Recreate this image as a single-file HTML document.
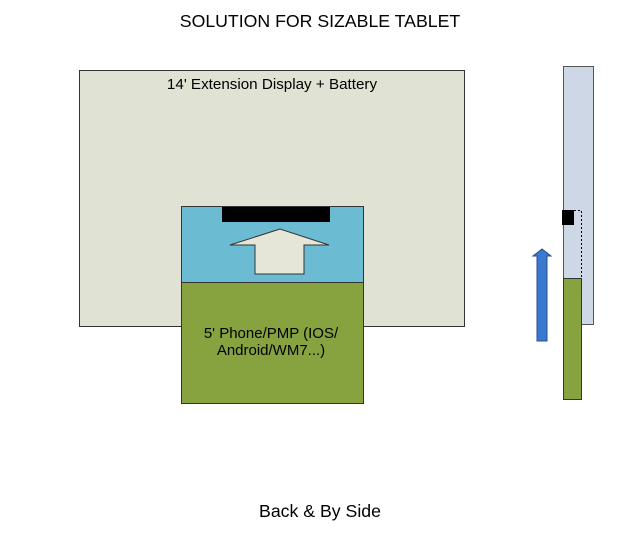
<!DOCTYPE html>
<html><head><style>body{margin:0;background:#fff}</style></head><body>
<svg width="640" height="534" xmlns="http://www.w3.org/2000/svg" font-family="Liberation Sans, sans-serif">
<text x="320" y="27" text-anchor="middle" font-size="17.7" fill="#000">SOLUTION FOR SIZABLE TABLET</text>
<rect x="79.5" y="70.5" width="385" height="256" fill="#e0e2d4" stroke="#333" stroke-width="1"/>
<text x="272" y="89" text-anchor="middle" font-size="15.2">14' Extension Display + Battery</text>
<rect x="181.5" y="206.5" width="182" height="76" fill="#6bbcd3" stroke="#333"/>
<rect x="222" y="207" width="108" height="15" fill="#000"/>
<polygon points="280,229 230,245 255,245 255,274 304,274 304,245 329,245" fill="#e6e6d8" stroke="#333"/>
<rect x="181.5" y="282.5" width="182" height="121" fill="#86a33f" stroke="#333"/>
<text x="271" y="338" text-anchor="middle" font-size="15">5' Phone/PMP (IOS/</text>
<text x="271" y="355" text-anchor="middle" font-size="15">Android/WM7...)</text>
<rect x="563.5" y="66.5" width="30" height="258" fill="#cdd7e6" stroke="#555"/>
<rect x="562" y="210" width="12" height="15" fill="#000"/>
<polyline points="574,210.5 581.5,210.5 581.5,324" fill="none" stroke="#000" stroke-dasharray="2,2"/>
<rect x="563.5" y="278.5" width="18" height="121" fill="#86a33f" stroke="#333"/>
<polygon points="542,249 533,256 537,256 537,341 547,341 547,256 551,256" fill="#3b78cf" stroke="#2a4f8a"/>
<text x="320" y="517" text-anchor="middle" font-size="17.7">Back &amp; By Side</text>
</svg>
</body></html>
